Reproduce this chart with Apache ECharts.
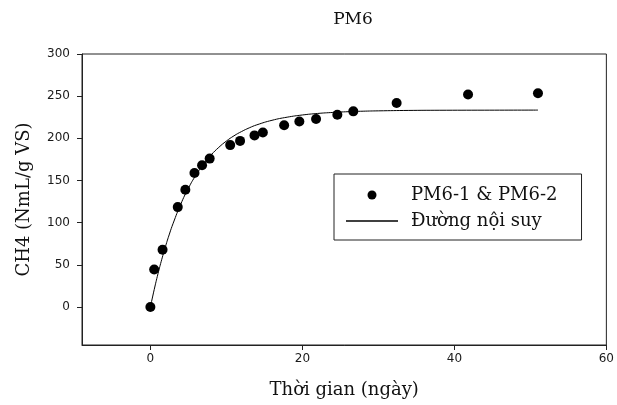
<!DOCTYPE html>
<html>
<head>
<meta charset="utf-8">
<script src="https://cdn.jsdelivr.net/npm/echarts@6/dist/echarts.min.js"></script>
<style>
  html, body { margin: 0; padding: 0; background: #fff; }
  #chart { width: 617px; height: 405px; }
</style>
</head>
<body>
<div id="chart"></div>
<script>
// Measured cumulative methane yield (days, NmL/g VS)
const obsDays = [0, 0.5, 1.6, 3.6, 4.6, 5.8, 6.8, 7.8, 10.5, 11.8, 13.7, 14.8, 17.6, 19.6, 21.8, 24.6, 26.7, 32.4, 41.8, 51];
const obsCH4  = [0, 44.5, 68, 118.5, 139, 159, 168, 176, 192, 197, 203.5, 207, 215.5, 220, 223, 228, 232, 242, 252, 253.5];

const fitDays = [0, 0.5, 1, 1.5, 2, 2.5, 3, 4, 5, 6, 7, 8, 9, 10, 11, 12, 13, 14, 16, 18, 20, 22, 24, 26, 28, 30, 34, 38, 44, 51];
const fitCH4  = [0, 20.6, 39.5, 56.6, 72.2, 86.5, 99.4, 122.1, 140.9, 156.5, 169.5, 180.4, 189.3, 196.8, 203.0, 208.1, 212.4, 216.0, 221.4, 225.1, 227.7, 229.5, 230.7, 231.6, 232.2, 232.6, 233.1, 233.3, 233.4, 233.5];

const xTicks = [0, 20, 40, 60];
const yTicks = [0, 50, 100, 150, 200, 250, 300];

const titleText = 'PM6';
const xName = 'Thời gian (ngày)';
const yName = 'CH4 (NmL/g VS)';
const obsName = 'PM6-1 & PM6-2';
const fitName = 'Đường nội suy';

const serif = 'DejaVu Serif';
const sans = 'DejaVu Sans';
const ink = '#111';

const chart = echarts.init(document.getElementById('chart'), null, { renderer: 'canvas' });

chart.setOption({
  animation: false,
  backgroundColor: '#fff',
  title: {
    text: titleText,
    left: 348,
    top: 6,
    textAlign: 'center',
    textStyle: { fontFamily: serif, fontSize: 17, fontWeight: 'normal', color: ink }
  },
  grid: {
    left: 82, right: 8, top: 54, bottom: 60,
    show: true, borderColor: '#222', borderWidth: 1, backgroundColor: 'transparent'
  },
  legend: {
    orient: 'vertical',
    left: 334,
    top: 174,
    padding: [12, 24, 10, 12],
    itemGap: 8,
    itemWidth: 52,
    itemHeight: 9,
    symbolKeepAspect: true,
    borderColor: '#222',
    borderWidth: 1,
    backgroundColor: '#fff',
    textStyle: { fontFamily: serif, fontSize: 18, color: ink, padding: [0, 0, 0, 8] },
    data: [
      { name: obsName, icon: 'circle', itemStyle: { color: '#000', opacity: 1 } },
      { name: fitName, icon: 'path://M0,0L52,0L52,1.3L0,1.3Z', itemStyle: { color: '#000', opacity: 1 } }
    ]
  },
  xAxis: {
    type: 'value',
    min: -9,
    max: 60,
    name: xName,
    nameLocation: 'middle',
    nameGap: 36,
    nameTextStyle: { fontFamily: serif, fontSize: 18, color: ink },
    axisLine: { show: true, onZero: false, lineStyle: { color: '#222', width: 1 } },
    axisTick: { show: true, inside: false, length: 5, customValues: xTicks, lineStyle: { color: '#222' } },
    axisLabel: { customValues: xTicks, margin: 8, fontFamily: sans, fontSize: 12, color: '#1a1a1a' },
    splitLine: { show: false }
  },
  yAxis: {
    type: 'value',
    min: -45,
    max: 300,
    name: yName,
    nameLocation: 'middle',
    nameGap: 49,
    nameRotate: 90,
    nameTextStyle: { fontFamily: serif, fontSize: 18, color: ink },
    axisLine: { show: true, onZero: false, lineStyle: { color: '#222', width: 1 } },
    axisTick: { show: true, inside: false, length: 5, customValues: yTicks, lineStyle: { color: '#222' } },
    axisLabel: { customValues: yTicks, margin: 12, fontFamily: sans, fontSize: 12, color: '#1a1a1a' },
    splitLine: { show: false }
  },
  series: [
    {
      name: fitName,
      type: 'line',
      data: fitDays.map((d, i) => [d, fitCH4[i]]),
      showSymbol: false,
      symbol: 'none',
      smooth: true,
      lineStyle: { color: '#000', width: 1 },
      itemStyle: { color: '#000' },
      z: 2
    },
    {
      name: obsName,
      type: 'scatter',
      data: obsDays.map((d, i) => [d, obsCH4[i]]),
      symbol: 'circle',
      symbolSize: 10,
      itemStyle: { color: '#000', opacity: 1 },
      z: 3
    }
  ]
});
</script>
</body>
</html>
